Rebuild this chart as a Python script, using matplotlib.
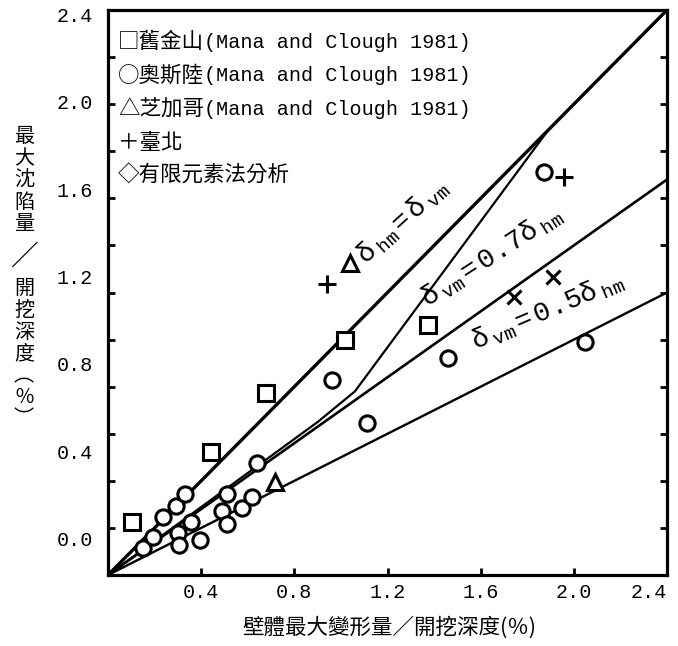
import numpy as np
import matplotlib
matplotlib.use("Agg")
import matplotlib.pyplot as plt

plt.rcParams['font.family'] = ['Liberation Mono', 'Noto Sans CJK TC']
plt.rcParams['mathtext.fontset'] = 'custom'
plt.rcParams['mathtext.rm'] = 'Liberation Mono'
plt.rcParams['mathtext.it'] = 'Liberation Mono'

CJK = ['Noto Sans CJK TC', 'DejaVu Sans']

# 舊金山 (Mana and Clough 1981)
sf_x = [0.103, 0.443, 0.680, 1.019, 1.372]
sf_y = [0.225, 0.523, 0.773, 0.998, 1.062]

# 奧斯陸 (Mana and Clough 1981)
oslo_x = [0.151, 0.194, 0.237, 0.292, 0.331, 0.301, 0.305, 0.357, 0.396, 0.490,
          0.512, 0.512, 0.576, 0.619, 0.641, 0.963, 1.114, 1.458, 1.871, 2.047]
oslo_y = [0.115, 0.161, 0.246, 0.293, 0.344, 0.178, 0.127, 0.225, 0.149, 0.272,
          0.344, 0.217, 0.285, 0.331, 0.476, 0.828, 0.646, 0.922, 1.712, 0.990]

# 芝加哥 (Mana and Clough 1981)
chicago_x = [0.718, 1.040]
chicago_y = [0.395, 1.325]

# 臺北
taipei_x = [0.942, 1.957]
taipei_y = [1.236, 1.690]
taipei_x2 = [1.742, 1.910]
taipei_y2 = [1.181, 1.266]

# δvm / δhm reference ratios
ratios = [1.0, 0.7, 0.5]
ratio_lw = [2.4, 1.9, 1.7]

# 有限元素法分析 trend
fem_x = [0.0, 0.9, 1.06, 1.89]
fem_y = [0.0, 0.65, 0.78, 1.89]

xtick_vals = [0.4, 0.8, 1.2, 1.6, 2.0, 2.4]
xtick_labels = ["0.4", "0.8", "1.2", "1.6", "2.0", "2.4"]
ytick_labels = ["0.0", "0.4", "0.8", "1.2", "1.6", "2.0", "2.4"]
# printed y labels sit on their own spacing, not on the tick marks
y_label_base = 0.155
y_label_step = 0.371

legend_rows = [("□舊金山", "(Mana and Clough 1981)"),
               ("○奧斯陸", "(Mana and Clough 1981)"),
               ("△芝加哥", "(Mana and Clough 1981)"),
               ("＋臺北", ""),
               ("◇有限元素法分析", "")]

fig = plt.figure(figsize=(6.78, 6.46), dpi=100)
ax = fig.add_axes([0.1593, 0.1099, 0.8245, 0.8746])
ax.set_xlim(0, 2.4)
ax.set_ylim(0, 2.4)

for r, lw in zip(ratios, ratio_lw):
    ax.plot([0, 2.4], [0, 2.4 * r], color='black', lw=lw, zorder=2)
ax.plot(fem_x, fem_y, color='black', lw=1.6, zorder=2)

mk = dict(linestyle='none', color='black', mfc='white', mew=2.2, zorder=3)
ax.plot(sf_x, sf_y, marker='s', ms=12, **mk)
ax.plot(oslo_x, oslo_y, marker='o', ms=11, **mk)
ax.plot(chicago_x, chicago_y, marker='^', ms=12, **mk)
ax.plot(taipei_x, taipei_y, marker='+', ms=13, **mk)
ax.plot(taipei_x2, taipei_y2, marker='x', ms=10, **mk)

# ratio labels along the lines
lbl = dict(fontsize=20, rotation_mode='anchor', ha='left', va='baseline', zorder=4)
ax.text(1.105, 1.317, r"$δ_{\ \rm hm}=δ_{\ \rm vm}$", rotation=42, **lbl)
ax.text(1.372, 1.134, r"$δ_{\ \rm vm}=0.7δ_{\ \rm hm}$", rotation=33, **lbl)
ax.text(1.578, 0.956, r"$δ_{\ \rm vm}=0.5δ_{\ \rm hm}$", rotation=23, **lbl)

# legend block
for i, (sym, ref) in enumerate(legend_rows):
    t = ax.text(0.018, 0.943 - i * 0.0592, sym, transform=ax.transAxes,
                family=CJK, fontsize=15.5, va='center', ha='left')
    if ref:
        ax.annotate(ref, xy=(1, 0.5), xycoords=t, va='center', ha='left',
                    family='Liberation Mono', fontsize=14.5)

for s in ax.spines.values():
    s.set_linewidth(2.3)

ax.set_xticks(xtick_vals, xtick_labels)
ax.tick_params(axis='x', direction='in', length=5, width=2, pad=6, labelsize=14.5)
ax.get_xticklabels()[-1].set_horizontalalignment('right')
ax.set_yticks(y_label_base + y_label_step * np.arange(len(ytick_labels)), ytick_labels)
ax.tick_params(axis='y', which='major', length=0, pad=11, labelsize=14.5)
ax.set_yticks(np.arange(0.2, 2.4, 0.2), minor=True)
ax.tick_params(axis='y', which='minor', direction='in', length=5, width=2,
               left=True, right=True)

fig.text(389 / 678, 1 - 628 / 646, "壁體最大變形量／開挖深度(％)",
         family=CJK, fontsize=15.5, ha='center', va='center')

# vertical y label, one character per cell
ylab_chars = ["最", "大", "沈", "陷", "量", "／", "開", "挖", "深", "度", "︵", "％", "︶"]
ylab_slots = [0, 1, 2, 3, 4, 5.5, 7, 8, 9, 10, 11, 12, 13]
for ch, k in zip(ylab_chars, ylab_slots):
    fig.text(24 / 678, 1 - (137 + 21.7 * k) / 646, ch, family=CJK,
             fontsize=20 if ch == "／" else 14.5, ha='center', va='center')

fig.savefig("out.png", dpi=100)
